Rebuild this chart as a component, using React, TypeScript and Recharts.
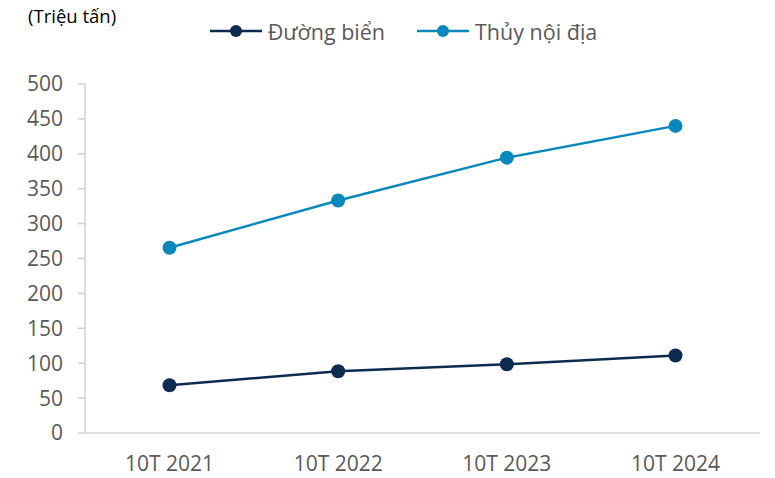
import React from "react";
import { LineChart, Line, XAxis, YAxis, Legend } from "recharts";

const categories = ["10T 2021", "10T 2022", "10T 2023", "10T 2024"];
const duongBien = [68.5, 88.5, 98.5, 111];
const thuyNoiDia = [265.5, 333, 394.5, 440];
const yTicks = [0, 50, 100, 150, 200, 250, 300, 350, 400, 450, 500];
const unitLabel = "(Triệu tấn)";

const seriesNames = ["Đường biển", "Thủy nội địa"];
const seriesColors = ["#0D2B50", "#0A88BE"];

const data = categories.map((c, i) => ({
  name: c,
  duongBien: duongBien[i],
  thuyNoiDia: thuyNoiDia[i],
}));

const FONT = "'Open Sans', 'Noto Sans', sans-serif";

const LegendContent = () => (
  <div
    style={{
      width: 775,
      height: 30,
      display: "flex",
      justifyContent: "center",
      alignItems: "center",
      paddingLeft: 32,
      boxSizing: "border-box",
      fontFamily: FONT,
      fontSize: 21.5,
      color: "#595959",
    }}
  >
    {seriesNames.map((n, i) => (
      <div
        key={n}
        style={{ display: "flex", alignItems: "center", marginRight: i === 0 ? 32 : 0 }}
      >
        <svg width={52} height={16} style={{ marginRight: 6 }}>
          <line x1={0} y1={8} x2={52} y2={8} stroke={seriesColors[i]} strokeWidth={2.5} />
          <circle cx={26} cy={8} r={6} fill={seriesColors[i]} />
        </svg>
        <span>{n}</span>
      </div>
    ))}
  </div>
);

export default function App() {
  return (
    <div style={{ position: "absolute", left: 0, top: 0, width: 775, height: 478, background: "#fff" }}>
      <div
        style={{
          position: "absolute",
          left: 28,
          top: 3,
          fontFamily: FONT,
          fontSize: 18.5,
          color: "#000",
          whiteSpace: "nowrap",
        }}
      >
        {unitLabel}
      </div>
      <LineChart
        width={775}
        height={478}
        data={data}
        margin={{ top: 54, right: 15, bottom: 0, left: 0 }}
      >
        <Legend
          verticalAlign="top"
          content={<LegendContent />}
          wrapperStyle={{ top: 16, left: 0, width: 775 }}
        />
        <XAxis
          dataKey="name"
          height={45}
          tickLine={false}
          padding={{ left: 84.5, right: 84.5 }}
          axisLine={{ stroke: "#D9D9D9", strokeWidth: 1.5 }}
          tick={{ fill: "#595959", fontSize: 21, fontFamily: FONT }}
          tickMargin={17}
        />
        <YAxis
          width={85}
          domain={[0, 500]}
          ticks={yTicks}
          interval={0}
          tickSize={7}
          tickLine={{ stroke: "#D0D0D0", strokeWidth: 1.5 }}
          axisLine={{ stroke: "#D0D0D0", strokeWidth: 1.5 }}
          tick={{ fill: "#595959", fontSize: 21, fontFamily: FONT }}
          tickMargin={15}
        />
        <Line
          dataKey="duongBien"
          name={seriesNames[0]}
          stroke={seriesColors[0]}
          strokeWidth={2.5}
          dot={{ r: 7, fill: seriesColors[0], stroke: seriesColors[0], strokeWidth: 0 }}
          isAnimationActive={false}
        />
        <Line
          dataKey="thuyNoiDia"
          name={seriesNames[1]}
          stroke={seriesColors[1]}
          strokeWidth={2.5}
          dot={{ r: 7, fill: seriesColors[1], stroke: seriesColors[1], strokeWidth: 0 }}
          isAnimationActive={false}
        />
      </LineChart>
    </div>
  );
}
